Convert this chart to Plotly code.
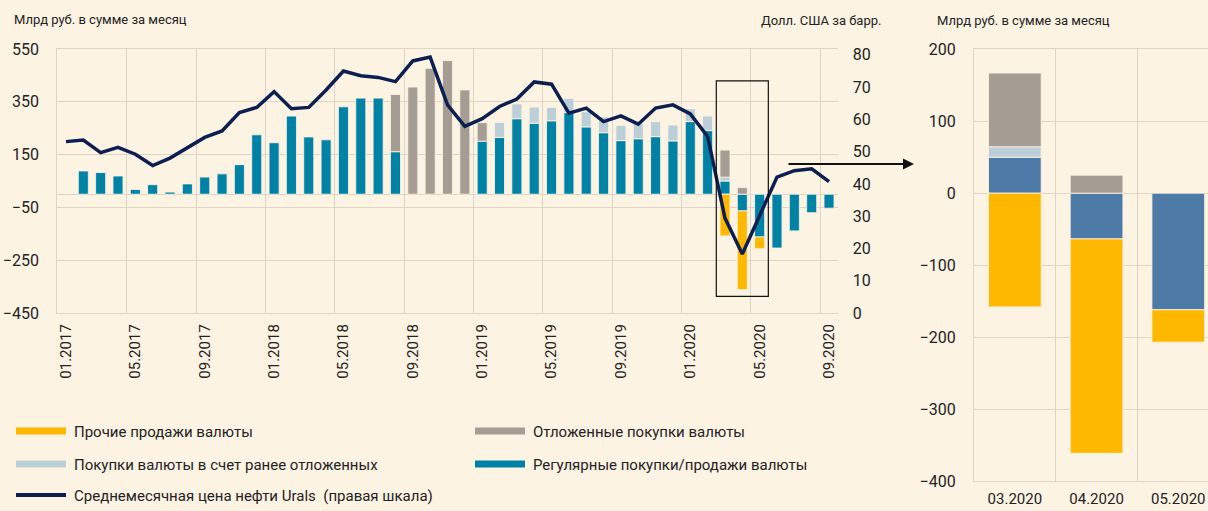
import plotly.graph_objects as go

W, H = 1208, 511

# ---------------- data ----------------
months = [f"{m:02d}.{y}" for y in range(2017, 2021) for m in range(1, 13)][:45]

# Regular purchases/sales of currency, bn RUB
regular = [None, 88, 82, 69, 18, 36, 8, 39, 65, 77, 112, 225, 195, 296, 217, 206, 331, 364, 364, 161,
           None, None, None, None, 201, 215, 286, 269, 278, 309, 255, 233, 203, 210, 218, 202, 275, 241,
           50, -63.5, -162, -204, -139, -70, -53]
# Purchases of currency from previously deferred
deferred_used = [None] * 25 + [57, 56, 61, 51, 54, 57, 60, 58, 58, 57, 60, 48, 55, 14.5] + [None] * 6
# Deferred purchases
deferred = [None] * 19 + [217, 406, 477, 506, 395, 70] + [None] * 13 + [102.5, 25] + [None] * 5
# Other currency sales
other_sales = [None] * 38 + [-158, -298, -45] + [None] * 4
# Urals monthly average price, USD/bbl
oil = [53.1, 53.6, 49.7, 51.3, 49.2, 45.7, 48.0, 51.1, 54.4, 56.4,
       62.1, 63.7, 68.6, 63.3, 63.7, 69.1, 75.0, 73.5, 73.0, 71.7,
       78.1, 79.3, 64.5, 57.8, 60.2, 64.0, 66.3, 71.6, 70.9, 61.9,
       63.5, 59.3, 61.1, 58.5, 63.5, 64.5, 61.7, 54.7, 29.4, 18.3,
       30.0, 42.1, 44.1, 44.7, 40.7]

zoom_months = ["03.2020", "04.2020", "05.2020"]
zoom_regular = [50, -63.5, -162]
zoom_deferred_used = [14.5, None, None]
zoom_deferred = [102.5, 25, None]
zoom_other = [-158, -298, -45]

legend_items = [
    ("Прочие продажи валюты", "yellow"),
    ("Отложенные покупки валюты", "gray"),
    ("Покупки валюты в счет ранее отложенных", "light"),
    ("Регулярные покупки/продажи валюты", "teal"),
    ("Среднемесячная цена нефти Urals  (правая шкала)", "navy"),
]

# ---------------- style ----------------
BG = "#FDF3E3"
GRID = "#DFD5C5"
TEAL = "#0081A6"
STEEL = "#4E7AA7"
GRAY = "#A59D94"
LIGHT = "#BCCFD8"
YELLOW = "#FFB800"
NAVY = "#0C1F50"
TXT = "#222222"
FONT = "Roboto"
COL = {"yellow": YELLOW, "gray": GRAY, "light": LIGHT, "teal": TEAL, "navy": NAVY}

def px(x):
    return x / W

def py(y):
    return 1 - y / H

xi = list(range(len(months)))
zi = list(range(len(zoom_months)))
bar_line = dict(color="rgba(253,243,227,0.85)", width=1)

fig = go.Figure()
for vals, c in [(regular, TEAL), (deferred_used, LIGHT), (deferred, GRAY), (other_sales, YELLOW)]:
    fig.add_bar(x=xi, y=vals, marker=dict(color=c, line=bar_line), width=0.58,
                xaxis="x", yaxis="y", hoverinfo="skip")
fig.add_scatter(x=xi, y=oil, mode="lines", line=dict(color=NAVY, width=3.5),
                xaxis="x", yaxis="y2", hoverinfo="skip")

for vals, c in [(zoom_regular, STEEL), (zoom_deferred_used, LIGHT), (zoom_deferred, GRAY), (zoom_other, YELLOW)]:
    fig.add_bar(x=zi, y=vals, marker=dict(color=c, line=bar_line), width=0.645,
                xaxis="x2", yaxis="y3", hoverinfo="skip")

tick_font = dict(family=FONT, size=16, color=TXT)

fig.update_layout(
    width=W, height=H,
    margin=dict(l=0, r=0, t=0, b=0, pad=0),
    paper_bgcolor=BG, plot_bgcolor=BG,
    barmode="relative",
    showlegend=False,
    font=dict(family=FONT, color=TXT),
    xaxis=dict(
        domain=[px(57.3), px(837.7)], anchor="y", range=[-0.5, 44.5], automargin=False,
        tickmode="array", tickvals=xi[::4], ticktext=months[::4],
        tickangle=-90, tickfont=dict(family=FONT, size=15, color=TXT),
        ticks="", ticklabelstandoff=4,
        showgrid=False, zeroline=False,
        minor=dict(tick0=-0.5, dtick=4, showgrid=True, gridcolor=GRID, gridwidth=1.3, ticks=""),
        showline=True, mirror=True, linecolor=GRID, linewidth=1.3,
    ),
    yaxis=dict(
        domain=[py(313), py(49)], anchor="x", range=[-450, 550], automargin=False,
        tick0=-450, dtick=200, tickfont=tick_font, ticks="", ticklabelstandoff=14,
        showgrid=True, gridcolor=GRID, gridwidth=1.3,
        zeroline=True, zerolinecolor=GRID, zerolinewidth=1.3,
        showline=True, linecolor=GRID, linewidth=1.3,
    ),
    yaxis2=dict(
        overlaying="y", side="right", anchor="x", range=[0, 81.8], automargin=False,
        tick0=0, dtick=10, tickfont=tick_font, ticks="", ticklabelstandoff=14,
        showgrid=False, zeroline=False, showline=False,
    ),
    xaxis2=dict(
        domain=[px(974), 1.0], anchor="y3", range=[-0.5, 2.364], automargin=False,
        tickmode="array", tickvals=zi, ticktext=zoom_months,
        tickfont=dict(family=FONT, size=15, color=TXT), ticks="", ticklabelstandoff=4,
        showgrid=False, zeroline=False,
        minor=dict(tick0=-0.5, dtick=1, showgrid=True, gridcolor=GRID, gridwidth=1.3, ticks=""),
        showline=True, mirror=True, linecolor=GRID, linewidth=1.3,
    ),
    yaxis3=dict(
        domain=[py(481), py(49.3)], anchor="x2", range=[-400, 200], automargin=False,
        tick0=-400, dtick=100, tickfont=tick_font, ticks="", ticklabelstandoff=14,
        showgrid=True, gridcolor=GRID, gridwidth=1.3,
        zeroline=True, zerolinecolor=GRID, zerolinewidth=1.3,
        showline=True, linecolor=GRID, linewidth=1.3,
    ),
)

# highlight box around 03-05.2020 on the main chart (data coordinates)
fig.add_shape(type="rect", xref="x", yref="y", x0=37.5, x1=40.5, y0=-387, y1=429,
              line=dict(color="#111111", width=1.2), fillcolor="rgba(0,0,0,0)")

# arrow to the zoomed chart
fig.add_annotation(xref="paper", yref="paper", x=px(914), y=py(164), ax=-127, ay=0,
                   axref="pixel", ayref="pixel", text="", showarrow=True,
                   arrowhead=2, arrowsize=1.1, arrowwidth=2, arrowcolor="#111111")

# axis titles
titles = [("Млрд руб. в сумме за месяц", 12, 19),
          ("Долл. США за барр.", 759, 20),
          ("Млрд руб. в сумме за месяц", 935, 21)]
for t, x, y in titles:
    fig.add_annotation(xref="paper", yref="paper", x=px(x), y=py(y), text=t, showarrow=False,
                       xanchor="left", yanchor="middle", font=dict(family=FONT, size=13, color=TXT))

# legend (manual)
pos = [(16, 431), (475, 431), (16, 464), (475, 464), (16, 495)]
for (label, key), (x, y) in zip(legend_items, pos):
    if key == "navy":
        fig.add_shape(type="line", xref="paper", yref="paper", x0=px(x), x1=px(x + 50),
                      y0=py(y), y1=py(y), line=dict(color=COL[key], width=4))
    else:
        fig.add_shape(type="rect", xref="paper", yref="paper", x0=px(x), x1=px(x + 50),
                      y0=py(y + 3.5), y1=py(y - 3.5), line=dict(width=0), fillcolor=COL[key])
    fig.add_annotation(xref="paper", yref="paper", x=px(x + 56), y=py(y + 1), text=label,
                       showarrow=False, xanchor="left", yanchor="middle",
                       font=dict(family=FONT, size=15, color=TXT))

fig.write_html("out.html", config={"displayModeBar": False},
               post_script="document.body.style.margin='0';document.body.style.overflow='hidden';")
